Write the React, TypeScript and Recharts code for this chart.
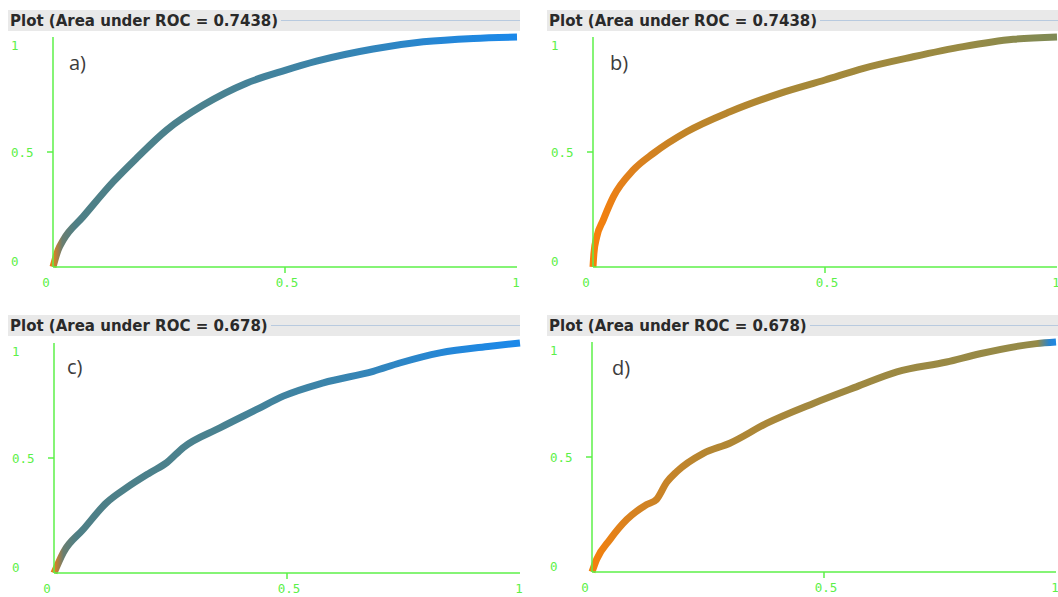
import { Line, LineChart, XAxis, YAxis } from "recharts";

// ROC points (false positive rate / true positive rate)
const fprA = [0, 0.011, 0.022, 0.065, 0.13, 0.18, 0.245, 0.324, 0.417, 0.5, 0.568, 0.69, 0.798, 0.906, 1];
const tprA = [0, 0.074, 0.117, 0.219, 0.371, 0.473, 0.596, 0.704, 0.799, 0.855, 0.895, 0.948, 0.979, 0.994, 1];

const fprB = [0, 0.002, 0.008, 0.022, 0.044, 0.087, 0.13, 0.202, 0.295, 0.403, 0.5, 0.583, 0.69, 0.798, 0.906, 1];
const tprB = [0, 0.06, 0.13, 0.204, 0.306, 0.422, 0.494, 0.588, 0.675, 0.755, 0.813, 0.864, 0.914, 0.958, 0.99, 1];

const fprC = [0, 0.02, 0.063, 0.113, 0.156, 0.206, 0.242, 0.277, 0.356, 0.435, 0.492, 0.578, 0.685, 0.742, 0.828, 0.936, 1];
const tprC = [0, 0.089, 0.19, 0.306, 0.371, 0.436, 0.48, 0.545, 0.631, 0.711, 0.769, 0.827, 0.877, 0.913, 0.957, 0.986, 1];

const fprD = [0, 0.01, 0.039, 0.075, 0.118, 0.139, 0.161, 0.183, 0.24, 0.297, 0.376, 0.477, 0.57, 0.657, 0.764, 0.836, 0.958, 1];
const tprD = [0, 0.055, 0.142, 0.228, 0.293, 0.315, 0.39, 0.437, 0.516, 0.56, 0.646, 0.733, 0.805, 0.87, 0.913, 0.949, 0.993, 1];

const axisTicks = [0, 0.5, 1];
const tickLabels: Record<number, string> = { 0: "0", 0.5: "0.5", 1: "1" };
const titleAB = "Plot (Area under ROC = 0.7438)";
const titleCD = "Plot (Area under ROC = 0.678)";
const letters = ["a)", "b)", "c)", "d)"];

const GREEN = "#5cf048";
const MONO = '"DejaVu Sans Mono", monospace';

const blueStops: [number, string][] = [
  [0, "#e8801a"], [0.02, "#6a7e70"], [0.05, "#4e7f86"], [0.35, "#4a8290"],
  [0.6, "#3a84ac"], [0.85, "#2487d8"], [1, "#1a88ea"],
];
const orangeStops: [number, string][] = [
  [0, "#f8800a"], [0.06, "#e4801a"], [0.2, "#c08428"], [0.45, "#a68838"],
  [0.8, "#988a44"], [1, "#7e8a56"],
];
const orangeBlueStops: [number, string][] = [
  [0, "#f5800c"], [0.08, "#d88220"], [0.25, "#b48632"], [0.5, "#a08840"],
  [0.96, "#948a48"], [0.985, "#2a84cc"], [1, "#1e88e5"],
];

function rows(fpr: number[], tpr: number[]) {
  return fpr.map((x, i) => ({ fpr: x, tpr: tpr[i] }));
}

function YTick({ x, y, payload }: any) {
  const v = payload.value;
  const dy = v === 1 ? 8 : v === 0 ? -6 : 0;
  return (
    <g>
      {v === 0.5 && <line x1={x - 6} x2={x} y1={y} y2={y} stroke={GREEN} strokeWidth={1.5} />}
      <text x={x - 42} y={y + dy} dominantBaseline="central" textAnchor="start"
        fill={GREEN} fontFamily={MONO} fontSize={12.5}>
        {tickLabels[v]}
      </text>
    </g>
  );
}

function XTick({ x, y, payload }: any) {
  const v = payload.value;
  const dx = v === 0 ? -7 : v === 1 ? -1 : 2;
  return (
    <g>
      {v === 0.5 && <line x1={x} x2={x} y1={y} y2={y + 6} stroke={GREEN} strokeWidth={1.5} />}
      <text x={x + dx} y={y + 15} dominantBaseline="central" textAnchor="middle"
        fill={GREEN} fontFamily={MONO} fontSize={12.5}>
        {tickLabels[v]}
      </text>
    </g>
  );
}

function Header({ left, top, width, title }: { left: number; top: number; width: number; title: string }) {
  return (
    <div style={{
      position: "absolute", left, top, width, height: 21, background: "#e9e9e9",
      display: "flex", alignItems: "center",
    }}>
      <span style={{
        fontFamily: '"DejaVu Sans", sans-serif', fontWeight: "bold", fontSize: 15,
        color: "#2a2a2a", paddingLeft: 2, whiteSpace: "nowrap",
      }}>{title}</span>
      <div style={{ flex: 1, height: 0, borderTop: "1px solid #b8cadf", marginLeft: 3 }} />
    </div>
  );
}

function RocPanel({ id, left, top, width, fpr, tpr, stops }: {
  id: string; left: number; top: number; width: number;
  fpr: number[]; tpr: number[]; stops: [number, string][];
}) {
  return (
    <div style={{ position: "absolute", left, top }}>
      <LineChart width={width} height={300} data={rows(fpr, tpr)}
        margin={{ top: 37, right: 13, bottom: 0, left: 0 }}>
        <defs>
          <linearGradient id={id} x1="0" y1="0" x2="1" y2="0">
            {stops.map(([o, c]) => <stop key={o} offset={o} stopColor={c} />)}
          </linearGradient>
        </defs>
        <XAxis dataKey="fpr" type="number" domain={[0, 1]} ticks={axisTicks} height={33}
          axisLine={{ stroke: GREEN, strokeWidth: 1.5 }} tickLine={false}
          tickSize={0} tickMargin={0} tick={<XTick />} interval={0} />
        <YAxis dataKey="tpr" type="number" domain={[0, 1]} ticks={axisTicks} width={53}
          axisLine={{ stroke: GREEN, strokeWidth: 1.5 }} tickLine={false}
          tickSize={0} tickMargin={0} tick={<YTick />} interval={0} />
        <Line type="monotone" dataKey="tpr" stroke={`url(#${id})`} strokeWidth={7}
          dot={false} isAnimationActive={false} />
      </LineChart>
    </div>
  );
}

function Letter({ left, top, text }: { left: number; top: number; text: string }) {
  return (
    <div style={{
      position: "absolute", left, top, fontFamily: '"Open Sans", sans-serif',
      fontSize: 20, lineHeight: "20px", color: "#3c3c3c",
    }}>{text}</div>
  );
}

export default function App() {
  return (
    <div style={{
      position: "fixed", left: 0, top: 0, width: 1058, height: 597,
      overflow: "hidden", background: "#fff",
    }}>
      <RocPanel id="gA" left={0} top={0} width={530} fpr={fprA} tpr={tprA} stops={blueStops} />
      <RocPanel id="gB" left={540} top={0} width={530} fpr={fprB} tpr={tprB} stops={orangeStops} />
      <RocPanel id="gC" left={1} top={306} width={532} fpr={fprC} tpr={tprC} stops={blueStops} />
      <RocPanel id="gD" left={539} top={305} width={530} fpr={fprD} tpr={tprD} stops={orangeBlueStops} />
      <Header left={8} top={10} width={512} title={titleAB} />
      <Header left={547} top={10} width={520} title={titleAB} />
      <Header left={8} top={315} width={512} title={titleCD} />
      <Header left={547} top={315} width={520} title={titleCD} />
      <Letter left={69} top={53} text={letters[0]} />
      <Letter left={610} top={53} text={letters[1]} />
      <Letter left={67} top={357} text={letters[2]} />
      <Letter left={612} top={358} text={letters[3]} />
    </div>
  );
}
